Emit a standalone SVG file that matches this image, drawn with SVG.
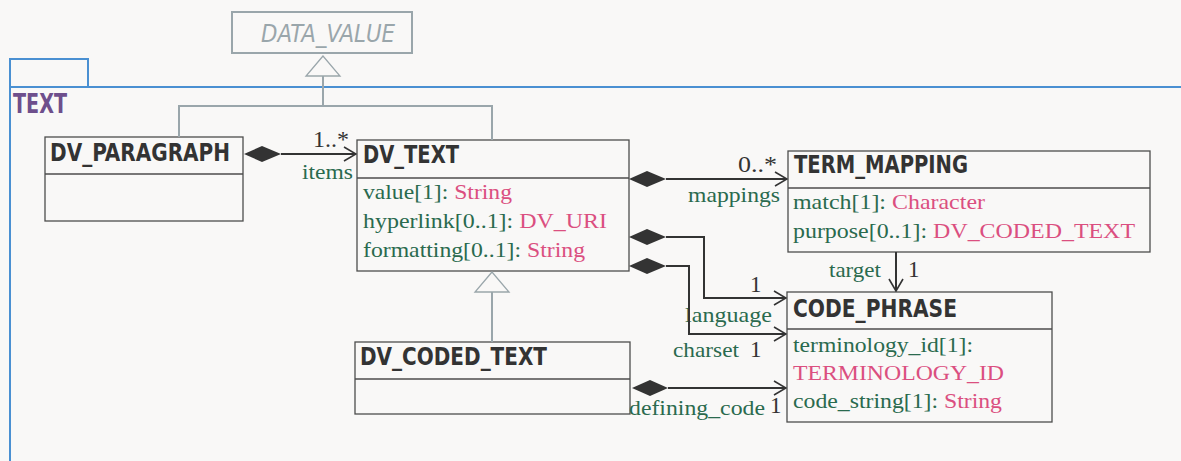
<svg xmlns="http://www.w3.org/2000/svg" width="1181" height="461" viewBox="0 0 1181 461">
<defs>
<style>
.box{fill:none;stroke:#4d4d4d;stroke-width:1.3}
.gbox{fill:none;stroke:#9aa6ab;stroke-width:2}
.title{font-family:"DejaVu Sans Condensed","Liberation Sans",sans-serif;font-weight:bold;font-size:24px;fill:#333333}
.attr{font-family:"Liberation Serif",serif;font-size:21px}
.g{fill:#2a6a4e}
.p{fill:#db4f80}
.mult{font-family:"Liberation Serif",serif;font-size:23px;fill:#333333}
.role{font-family:"Liberation Serif",serif;font-size:21px;fill:#2a6a4e}
.conn{fill:none;stroke:#333333;stroke-width:2}
.gen{fill:none;stroke:#9aa6ab;stroke-width:2}
.tri{fill:#f9f8f7;stroke:#9aa6ab;stroke-width:1.3}
.dia{fill:#333333;stroke:none}
.pkg{fill:none;stroke:#4a90d2;stroke-width:2}
</style>
<marker id="open" markerWidth="14" markerHeight="16" refX="13" refY="8" orient="auto" markerUnits="userSpaceOnUse">
<path d="M1,1 L13,8 L1,15" fill="none" stroke="#333333" stroke-width="1.6"/>
</marker>
</defs>
<rect width="1181" height="461" fill="#f9f8f7"/>

<g id="package-TEXT">
<path class="pkg" d="M10,461 V59 H88 V87"/>
<path class="pkg" d="M10,87 H1181"/>
<text x="13" y="113" textLength="54" lengthAdjust="spacingAndGlyphs" style="font-family:'DejaVu Sans Condensed','Liberation Sans',sans-serif;font-weight:bold;font-size:26px;fill:#6e4f8c">TEXT</text>
</g>

<g id="DATA_VALUE">
<rect class="gbox" x="232" y="12" width="180" height="41"/>
<text x="261" y="42" textLength="134" lengthAdjust="spacingAndGlyphs" style="font-family:'DejaVu Sans Condensed','Liberation Sans',sans-serif;font-style:italic;font-size:24px;fill:#9aa6ab">DATA_VALUE</text>
</g>

<g id="DV_PARAGRAPH">
<rect class="box" x="45" y="137" width="198" height="84"/>
<line class="box" x1="45" y1="174" x2="243" y2="174"/>
<text class="title" x="50" y="161" textLength="180" lengthAdjust="spacingAndGlyphs">DV_PARAGRAPH</text>
</g>

<g id="DV_TEXT">
<rect class="box" x="357" y="140" width="272" height="131"/>
<line class="box" x1="357" y1="178" x2="629" y2="178"/>
<text class="title" x="363" y="163" textLength="96" lengthAdjust="spacingAndGlyphs">DV_TEXT</text>
<text class="attr" x="363" y="199" textLength="149" lengthAdjust="spacingAndGlyphs"><tspan class="g">value[1]: </tspan><tspan class="p">String</tspan></text>
<text class="attr" x="363" y="228" textLength="244" lengthAdjust="spacingAndGlyphs"><tspan class="g">hyperlink[0..1]: </tspan><tspan class="p">DV_URI</tspan></text>
<text class="attr" x="363" y="257" textLength="222" lengthAdjust="spacingAndGlyphs"><tspan class="g">formatting[0..1]: </tspan><tspan class="p">String</tspan></text>
</g>

<g id="TERM_MAPPING">
<rect class="box" x="788" y="151" width="362" height="101"/>
<line class="box" x1="788" y1="188" x2="1150" y2="188"/>
<text class="title" x="794" y="173" textLength="174" lengthAdjust="spacingAndGlyphs">TERM_MAPPING</text>
<text class="attr" x="793" y="209" textLength="192" lengthAdjust="spacingAndGlyphs"><tspan class="g">match[1]: </tspan><tspan class="p">Character</tspan></text>
<text class="attr" x="793" y="238" textLength="342" lengthAdjust="spacingAndGlyphs"><tspan class="g">purpose[0..1]: </tspan><tspan class="p">DV_CODED_TEXT</tspan></text>
</g>

<g id="CODE_PHRASE">
<rect class="box" x="787" y="292" width="265" height="130"/>
<line class="box" x1="787" y1="329" x2="1052" y2="329"/>
<text class="title" x="793" y="317" textLength="164" lengthAdjust="spacingAndGlyphs">CODE_PHRASE</text>
<text class="attr g" x="793" y="352" textLength="180" lengthAdjust="spacingAndGlyphs">terminology_id[1]:</text>
<text class="attr p" x="793" y="380" textLength="211" lengthAdjust="spacingAndGlyphs">TERMINOLOGY_ID</text>
<text class="attr" x="793" y="408" textLength="209" lengthAdjust="spacingAndGlyphs"><tspan class="g">code_string[1]: </tspan><tspan class="p">String</tspan></text>
</g>

<g id="DV_CODED_TEXT">
<rect class="box" x="355" y="342" width="275" height="72"/>
<line class="box" x1="355" y1="379" x2="630" y2="379"/>
<text class="title" x="360" y="365" textLength="187" lengthAdjust="spacingAndGlyphs">DV_CODED_TEXT</text>
</g>

<g id="connectors">
<path class="gen" d="M179,137 V106 H492 V140"/>
<path class="gen" d="M323,106 V76"/>
<polygon class="tri" points="323,56 306,76 340,76"/>
<path class="gen" d="M492,342 V292"/>
<polygon class="tri" points="492,272 475,292 509,292"/>

<polygon class="dia" points="244,154 262,146 281,154 262,162"/>
<line class="conn" x1="281" y1="154" x2="356" y2="154" marker-end="url(#open)"/>
<text class="mult" x="313" y="147" textLength="36" lengthAdjust="spacingAndGlyphs">1..*</text>
<text class="role" x="302" y="179" textLength="51" lengthAdjust="spacingAndGlyphs">items</text>

<polygon class="dia" points="629,179 647,171 666,179 647,187"/>
<line class="conn" x1="666" y1="179" x2="787" y2="179" marker-end="url(#open)"/>
<text class="mult" x="738" y="172" textLength="39" lengthAdjust="spacingAndGlyphs">0..*</text>
<text class="role" x="688" y="202" textLength="92" lengthAdjust="spacingAndGlyphs">mappings</text>

<line class="conn" x1="896" y1="252" x2="896" y2="291" marker-end="url(#open)"/>
<text class="role" x="829" y="277" textLength="52" lengthAdjust="spacingAndGlyphs">target</text>
<text class="mult" x="908" y="277">1</text>

<polygon class="dia" points="629,237 647,229 666,237 647,245"/>
<path class="conn" d="M666,237 H704 V298 H786" marker-end="url(#open)"/>
<text class="mult" x="750" y="292">1</text>
<text class="role" x="685" y="322" textLength="87" lengthAdjust="spacingAndGlyphs">language</text>

<polygon class="dia" points="629,266 647,258 666,266 647,274"/>
<path class="conn" d="M666,266 H689 V334 H786" marker-end="url(#open)"/>
<text class="role" x="673" y="357" textLength="66" lengthAdjust="spacingAndGlyphs">charset</text>
<text class="mult" x="750" y="357">1</text>

<polygon class="dia" points="632,388 650,380 668,388 650,396"/>
<line class="conn" x1="668" y1="388" x2="786" y2="388" marker-end="url(#open)"/>
<text class="role" x="629" y="415" textLength="136" lengthAdjust="spacingAndGlyphs">defining_code</text>
<text class="mult" x="770" y="413">1</text>
</g>
</svg>
